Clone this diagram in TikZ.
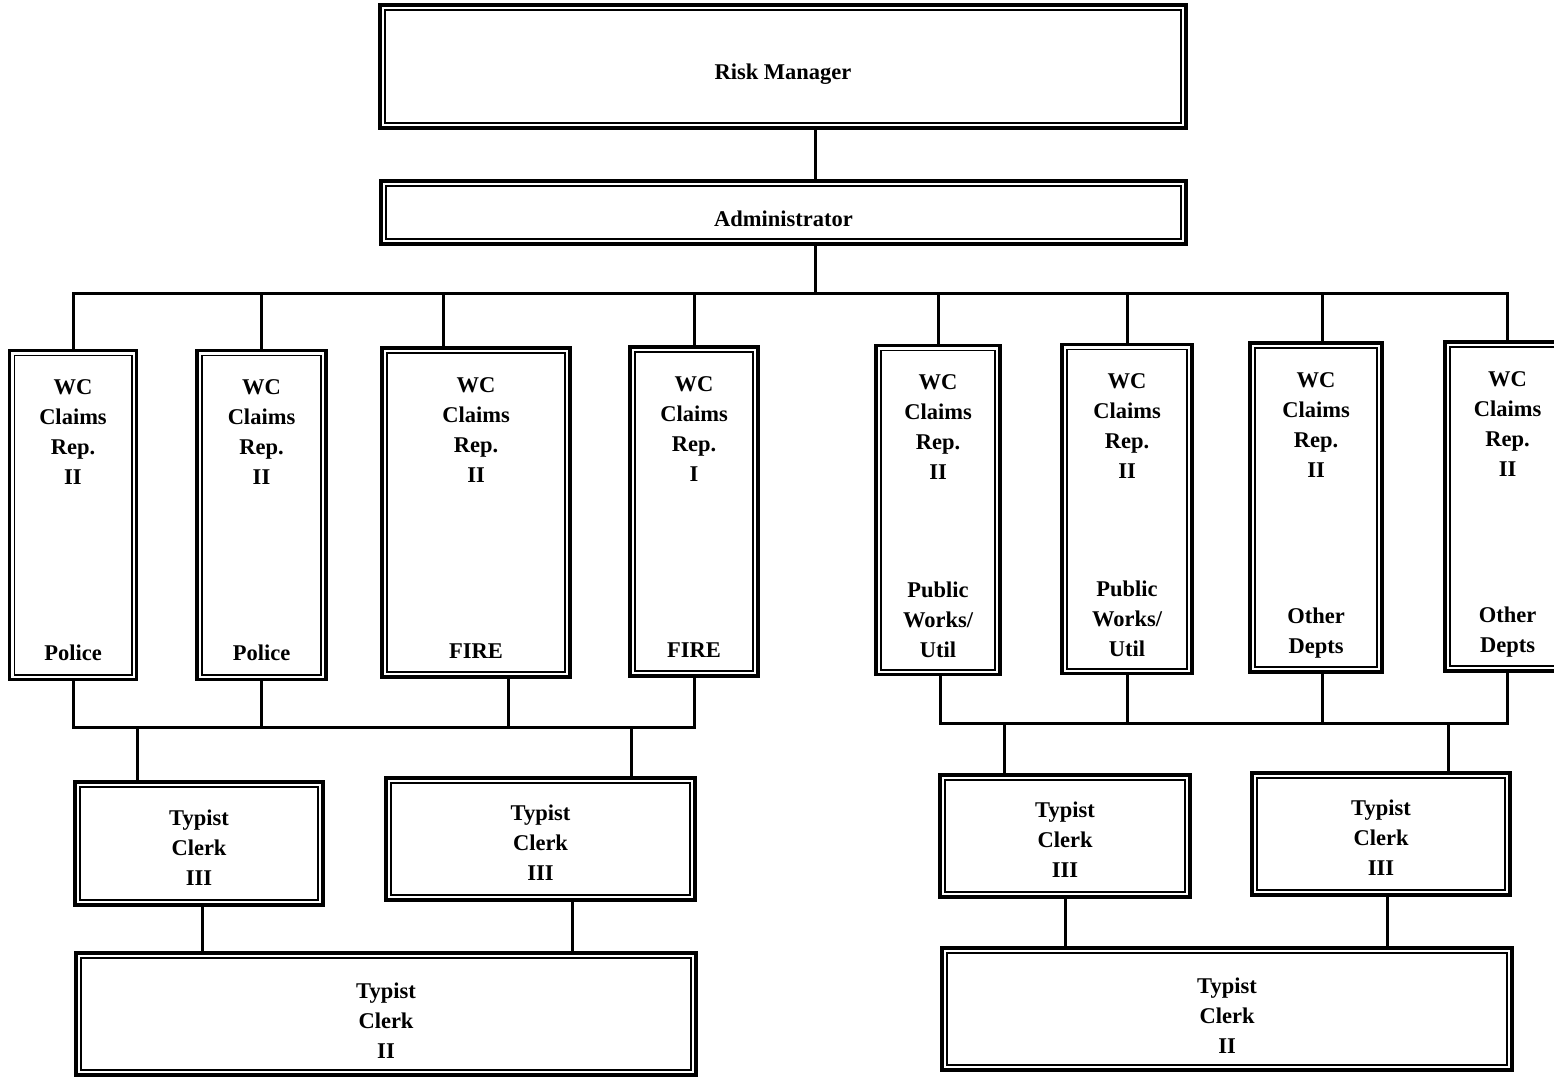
\documentclass[tikz,border=0pt]{standalone}
\usepackage{fontspec}
\setmainfont{Liberation Serif}
\usetikzlibrary{positioning}
\tikzset{
  post/.style={rectangle,draw,line width=3.4pt,inner sep=0pt,
    path picture={\draw[line width=1.6pt]
      ([shift={(4.8pt,-4.8pt)}]path picture bounding box.north west) rectangle
      ([shift={(-4.8pt,4.8pt)}]path picture bounding box.south east);}},
  rep/.style={post,minimum height=329pt},
  txt/.style={inner sep=0pt,align=center,font=\fontsize{22.5}{30}\selectfont\bfseries},
  link/.style={line width=3pt}
}
\begin{document}
\begin{tikzpicture}[x=1pt,y=-1pt]
\useasboundingbox (0,0) rectangle (1554,1077);
% ---------- top of the chart ----------
\node[post,minimum width=806pt,minimum height=123pt] (rm) at (783,66.5) {};
\node[txt] (rmt) at ([yshift=-8pt]rm.center) {Risk Manager};
\node[post,minimum width=805pt,minimum height=63pt] (adm) at (783.5,212.5) {};
\node[txt] (admt) at ([yshift=-6pt]adm.center) {Administrator};
% ---------- claims representatives ----------
\node[rep,minimum width=127pt] (w1) at (73,515) {};
\node[rep,minimum width=129pt] (w2) at (261.5,515) {};
\node[rep,minimum width=188pt] (w3) at (476,512.5) {};
\node[rep,minimum width=128pt] (w4) at (694,511.5) {};
\node[rep,minimum width=124pt] (w5) at (938,510) {};
\node[rep,minimum width=130pt] (w6) at (1127,509) {};
\node[rep,minimum width=132pt] (w7) at (1316,507.5) {};
\node[rep,minimum width=125pt] (w8) at (1507.5,506.5) {};
\foreach \b/\g in {w1/II,w2/II,w3/II,w4/I,w5/II,w6/II,w7/II,w8/II}
  {\node[txt,below=31pt of \b.north] (\b t) {WC\\Claims\\Rep.\\\g};}
\node[txt,above=20pt of w1.south] (w1b) {Police};
\node[txt,above=20pt of w2.south] (w2b) {Police};
\node[txt,above=20pt of w3.south] (w3b) {FIRE};
\node[txt,above=20pt of w4.south] (w4b) {FIRE};
\node[txt,above=18pt of w5.south] (w5b) {Public\\Works/\\Util};
\node[txt,above=18pt of w6.south] (w6b) {Public\\Works/\\Util};
\node[txt,above=15pt of w7.south] (w7b) {Other\\Depts};
\node[txt,above=15pt of w8.south] (w8b) {Other\\Depts};
% ---------- typist clerks ----------
\node[post,minimum width=248pt,minimum height=123pt] (t1) at (199,843.5) {};
\node[post,minimum width=309pt,minimum height=122pt] (t2) at (540.5,839) {};
\node[post,minimum width=250pt,minimum height=122pt] (t3) at (1065,836) {};
\node[post,minimum width=258pt,minimum height=122pt] (t4) at (1381,834) {};
\foreach \b in {t1,t2,t3,t4}
  {\node[txt] (\b t) at ([yshift=-4pt]\b.center) {Typist\\Clerk\\III};}
\node[post,minimum width=620pt,minimum height=122pt] (c1) at (386,1014) {};
\node[post,minimum width=570pt,minimum height=122pt] (c2) at (1227,1009) {};
\foreach \b in {c1,c2}
  {\node[txt] (\b t) at ([yshift=-7pt]\b.center) {Typist\\Clerk\\II};}
% ---------- connectors ----------
\draw[link] (rm.south -| 815,0) -- (adm.north -| 815,0);
\draw[link] (adm.south -| 815,0) -- (815,293);
\draw[link] (w1.north) |- (w8.north |- 0,293) -- (w8.north);
\foreach \b in {w2,w4,w5,w6}
  {\draw[link] (\b.north) -- (\b.north |- 0,293);}
\draw[link] (w3.north -| 443,0) -- (443,293);
\draw[link] (w7.north -| 1322,0) -- (1322,293);
% left group
\draw[link] (w1.south) |- (w4.south |- 0,727) -- (w4.south);
\draw[link] (w2.south) -- (w2.south |- 0,727);
\draw[link] (w3.south -| 508,0) -- (508,727);
\draw[link] (t1.north -| 137,0) -- (137,727);
\draw[link] (t2.north -| 631,0) -- (631,727);
\draw[link] (t1.south -| 202,0) -- (c1.north -| 202,0);
\draw[link] (t2.south -| 572,0) -- (c1.north -| 572,0);
% right group
\draw[link] (w5.south -| 940,0) |- (w8.south |- 0,723) -- (w8.south);
\draw[link] (w6.south) -- (w6.south |- 0,723);
\draw[link] (w7.south -| 1322,0) -- (1322,723);
\draw[link] (t3.north -| 1004,0) -- (1004,723);
\draw[link] (t4.north -| 1448,0) -- (1448,723);
\draw[link] (t3.south) -- (c2.north -| t3.south);
\draw[link] (t4.south -| 1387,0) -- (c2.north -| 1387,0);
\end{tikzpicture}
\end{document}
